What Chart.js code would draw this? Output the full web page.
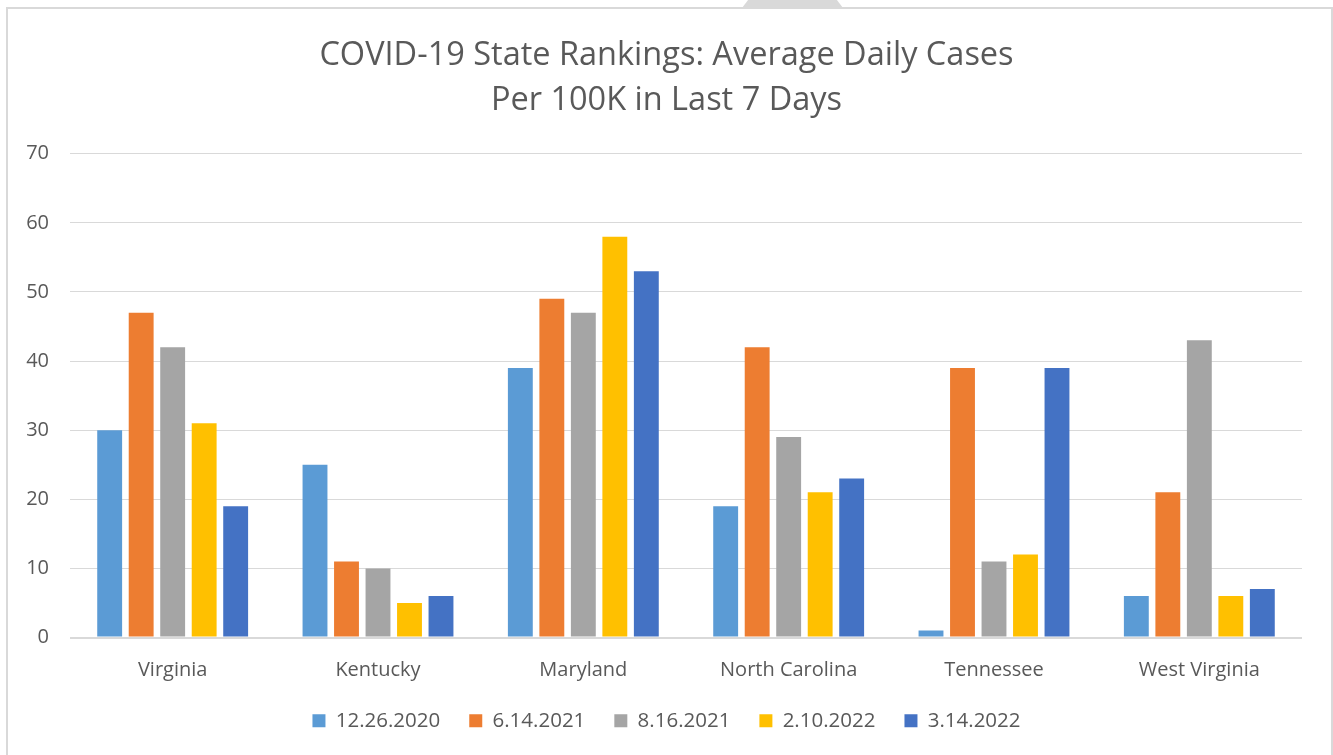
<!DOCTYPE html>
<html>
<head>
    <title>COVID-19 State Rankings</title>
    <script src="https://cdn.jsdelivr.net/npm/chart.js"></script>
    <style>
        body {
            margin: 0;
            background: #fff;
            overflow: hidden;
        }
        .frame {
            position: absolute;
            left: 6px;
            top: 7px;
            width: 1323px;
            height: 800px;
            border: 2px solid #d9d9d9;
        }
        .tab {
            position: absolute;
            left: 742px;
            top: 0;
            width: 101px;
            height: 8px;
            background: #d9d9d9;
            clip-path: polygon(6% 0, 94% 0, 100% 100%, 0 100%);
        }
        #chart {
            position: absolute;
            left: 0;
            top: 0;
        }
    </style>
</head>
<body>
    <div class="frame"></div>
    <div class="tab"></div>
    <canvas id="chart" width="1333" height="755"></canvas>

    <script>
        const states = ['Virginia', 'Kentucky', 'Maryland', 'North Carolina', 'Tennessee', 'West Virginia'];
        const dates = ['12.26.2020', '6.14.2021', '8.16.2021', '2.10.2022', '3.14.2022'];
        const colors = ['#5B9BD5', '#ED7D31', '#A5A5A5', '#FFC000', '#4472C4'];

        // 每个日期一组数据, 顺序与 states 对应
        const cases_12_26_2020 = [30, 25, 39, 19, 1, 6];
        const cases_6_14_2021 = [47, 11, 49, 42, 39, 21];
        const cases_8_16_2021 = [42, 10, 47, 29, 11, 43];
        const cases_2_10_2022 = [31, 5, 58, 21, 12, 6];
        const cases_3_14_2022 = [19, 6, 53, 23, 39, 7];

        const yTicks = [0, 10, 20, 30, 40, 50, 60, 70];

        const series = [cases_12_26_2020, cases_6_14_2021, cases_8_16_2021, cases_2_10_2022, cases_3_14_2022];
        const textColor = '#595959';
        const fontFamily = '"Open Sans", "Noto Sans", sans-serif';

        const ctx = document.getElementById('chart').getContext('2d');
        const chart = new Chart(ctx, {
            type: 'bar',
            data: {
                labels: states,
                datasets: series.map((values, i) => ({
                    label: dates[i],
                    data: values,
                    backgroundColor: colors[i],
                    borderWidth: 0,
                    categoryPercentage: 0.767,
                    barPercentage: 0.79
                }))
            },
            options: {
                responsive: false,
                animation: false,
                layout: {
                    padding: { left: 0, right: 0, top: 16, bottom: 14 }
                },
                scales: {
                    x: {
                        // 缩小x轴占位, 让图例贴近
                        afterFit: (scale) => { scale.height -= 22; },
                        grid: { display: false, drawTicks: false },
                        border: { display: false },
                        ticks: {
                            color: textColor,
                            font: { family: fontFamily, size: 20 },
                            padding: 21
                        }
                    },
                    y: {
                        min: 0,
                        max: 70,
                        afterFit: (scale) => { scale.width = 70; },
                        afterBuildTicks: (scale) => {
                            scale.ticks = yTicks.map(v => ({ value: v }));
                        },
                        grid: {
                            color: '#d9d9d9',
                            // 零线稍粗
                            lineWidth: (c) => (c.tick && c.tick.value === 0 ? 2 : 1),
                            drawTicks: false
                        },
                        border: { display: false },
                        ticks: {
                            color: textColor,
                            font: { family: fontFamily, size: 20 },
                            padding: 21
                        }
                    },
                    // 右侧留白, 让标题和图例在整个画布居中
                    spacer: {
                        position: 'right',
                        afterFit: (scale) => { scale.width = 31; },
                        grid: { display: false, drawTicks: false },
                        border: { display: false },
                        ticks: { display: false }
                    }
                },
                plugins: {
                    title: {
                        display: true,
                        text: ['COVID-19 State Rankings: Average Daily Cases', 'Per 100K in Last 7 Days'],
                        color: textColor,
                        font: { family: fontFamily, size: 32.5, weight: 'normal', lineHeight: 1.38 },
                        padding: { top: 17, bottom: 31 }
                    },
                    legend: {
                        position: 'bottom',
                        labels: {
                            color: textColor,
                            font: { family: fontFamily, size: 20.5 },
                            boxWidth: 13,
                            boxHeight: 13,
                            padding: 29
                        }
                    },
                    tooltip: { enabled: false }
                }
            }
        });
    </script>
</body>
</html>
